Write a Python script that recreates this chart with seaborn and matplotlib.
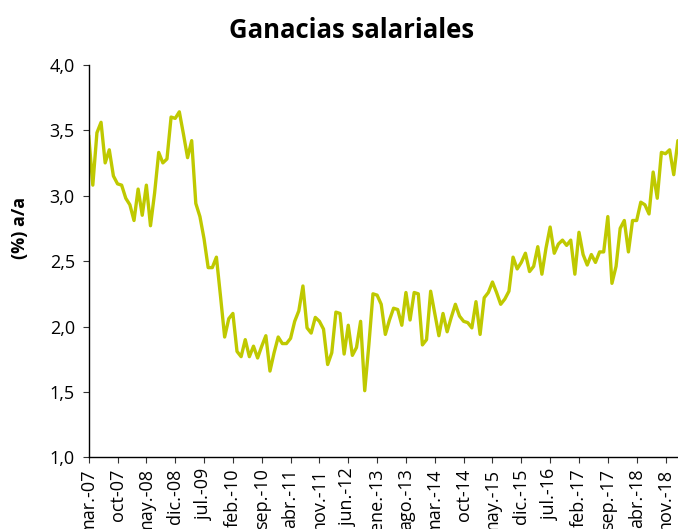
import numpy as np
import pandas as pd
import matplotlib
matplotlib.use("Agg")
import matplotlib.pyplot as plt
import seaborn as sns

# Monthly wage growth, mar-07 .. feb-19 (% y/y)
wages = [3.46, 3.08, 3.48, 3.56, 3.25, 3.35, 3.15, 3.09, 3.08, 2.98,
         2.93, 2.81, 3.05, 2.85, 3.08, 2.77, 3.02, 3.33, 3.25, 3.28,
         3.60, 3.59, 3.64, 3.47, 3.29, 3.42, 2.94, 2.84, 2.67, 2.45,
         2.45, 2.53, 2.23, 1.92, 2.06, 2.10, 1.81, 1.77, 1.90, 1.77,
         1.85, 1.76, 1.85, 1.93, 1.66, 1.80, 1.92, 1.87, 1.87, 1.91,
         2.04, 2.12, 2.31, 1.99, 1.95, 2.07, 2.04, 1.98, 1.71, 1.80,
         2.11, 2.10, 1.79, 2.01, 1.78, 1.84, 2.04, 1.51, 1.86, 2.25,
         2.24, 2.17, 1.94, 2.05, 2.14, 2.13, 2.01, 2.26, 2.05, 2.26,
         2.25, 1.86, 1.90, 2.27, 2.10, 1.93, 2.10, 1.96, 2.07, 2.17,
         2.08, 2.04, 2.03, 1.99, 2.19, 1.94, 2.22, 2.26, 2.34, 2.26,
         2.17, 2.21, 2.27, 2.53, 2.44, 2.49, 2.56, 2.42, 2.46, 2.61,
         2.40, 2.60, 2.76, 2.56, 2.63, 2.66, 2.62, 2.66, 2.40, 2.72,
         2.55, 2.47, 2.55, 2.49, 2.57, 2.57, 2.84, 2.33, 2.46, 2.75,
         2.81, 2.57, 2.81, 2.81, 2.95, 2.93, 2.86, 3.18, 2.98, 3.33,
         3.32, 3.35, 3.16, 3.42]

tick_labels = ["mar.-07", "oct-07", "may.-08", "dic.-08", "jul.-09", "feb.-10",
               "sep.-10", "abr.-11", "nov.-11", "jun.-12", "ene.-13", "ago.-13",
               "mar.-14", "oct-14", "may.-15", "dic.-15", "jul.-16", "feb.-17",
               "sep.-17", "abr.-18", "nov.-18"]
y_ticks = [1.0, 1.5, 2.0, 2.5, 3.0, 3.5, 4.0]

df = pd.DataFrame({"mes": np.arange(len(wages)), "valor": wages})

sns.set_style("ticks")
plt.rcParams['font.family'] = ['Open Sans', 'DejaVu Sans']
plt.rcParams['text.color'] = 'black'
plt.rcParams['xtick.color'] = 'black'
plt.rcParams['ytick.color'] = 'black'

fig = plt.figure(figsize=(6.78, 5.29), dpi=100)
ax = fig.add_axes([0.1308, 0.1352, 0.869, 0.7425])

sns.lineplot(data=df, x="mes", y="valor", color="#BFC900", linewidth=2.4, ax=ax)

ax.set_xlim(0, len(wages) - 1)
ax.set_ylim(1.0, 4.0)
ax.set_yticks(y_ticks)
ax.set_yticklabels([f"{v:.1f}".replace(".", ",") for v in y_ticks], fontsize=13)
ax.set_xticks(np.arange(0, len(wages), 7)[:len(tick_labels)])
ax.set_xticklabels(tick_labels, rotation=90, fontsize=13)
ax.tick_params(axis="both", length=4, width=0.8, color="#333333")
ax.tick_params(axis="y", pad=6)
ax.tick_params(axis="x", pad=4)
ax.set_xlabel("")
ax.set_ylabel("")

sns.despine(ax=ax)
for s in ["left", "bottom"]:
    ax.spines[s].set_color("black")
    ax.spines[s].set_linewidth(1.0)

fig.text(352 / 678, 1 - 30 / 529, "Ganacias salariales", ha="center", va="center",
         fontsize=18.5, fontweight="bold")
fig.text(20 / 678, 1 - 228 / 529, "(%) a/a", rotation=90, ha="center", va="center",
         fontsize=13, fontweight="bold")

plt.savefig("out.png", dpi=100)
